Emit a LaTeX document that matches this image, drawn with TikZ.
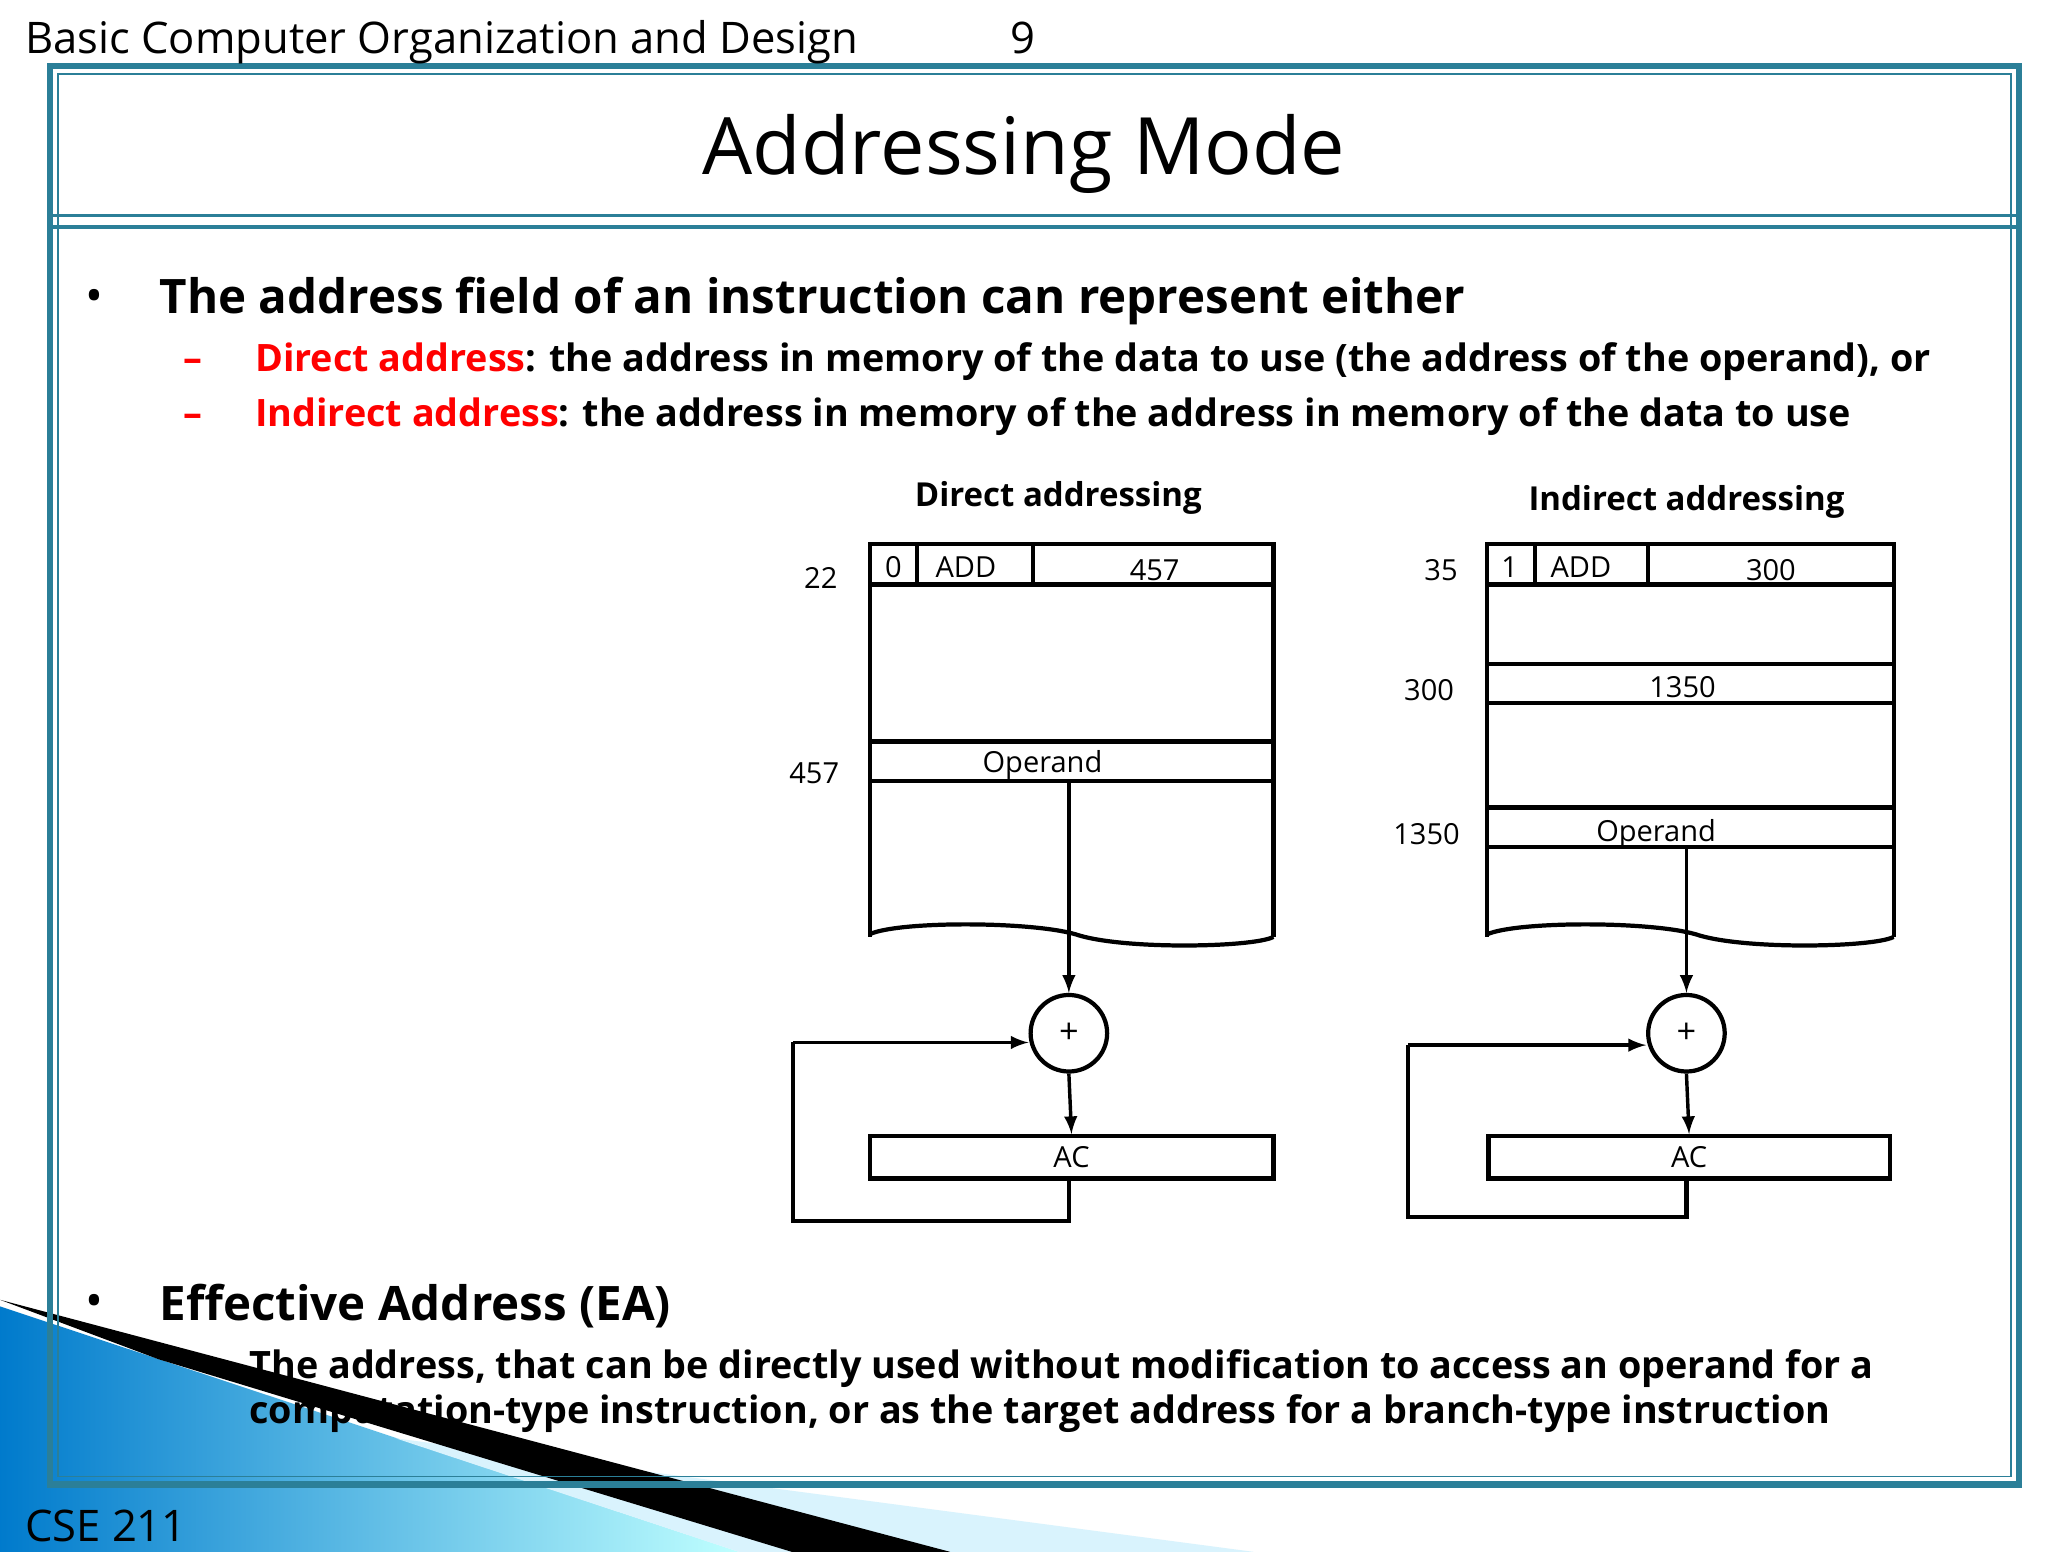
\documentclass[tikz,border=0pt]{standalone}
\usepackage{fontspec}
\setmainfont{Open Sans}
\definecolor{frm}{HTML}{2B7F98}
\begin{document}
\begin{tikzpicture}[x=0.5pt,y=-0.5pt,
  ln/.style={line width=1.6pt},
  lbl/.style={font=\fontsize{11}{13}\selectfont},
  arr/.style={line width=1.3pt,-latex}]
\useasboundingbox (0,0) rectangle (1552,1176);
\fill[white] (0,0) rectangle (1552,1176);
% bottom-left decoration
\shade[left color=cyan!60!blue!80!black, right color=cyan!25] (0,990)--(560,1176)--(0,1176)--cycle;
\fill[cyan!15] (300,1090)--(950,1176)--(560,1176)--cycle;
\fill[black] (0,985)--(720,1176)--(600,1176)--(120,1030)--cycle;
% frame
\draw[frm,line width=2.5pt] (38,50) rectangle (1530,1125);
\draw[frm,line width=0.6pt] (44,56) rectangle (1524,1119);
\draw[frm,line width=1.2pt] (40,163)--(1528,163);
\draw[frm,line width=1.2pt] (40,172)--(1528,172);
% texts
\node[anchor=west,font=\fontsize{16.5}{20}\selectfont] (hdr) at (12,32) {Basic Computer Organization and Design\hspace{58pt}9};
\node[anchor=west,font=\fontsize{16.5}{20}\selectfont] (cse) at (12,1156) {CSE 211};
\node[font=\fontsize{30}{36}\selectfont] (title) at (776,117) {Addressing Mode};
\node[anchor=west,font=\fontsize{18}{24}\selectfont] (bu1) at (58,228) {•};
\node[anchor=west,font=\fontsize{18}{24}\selectfont\bfseries] (b1) at (114,228) {The address field of an instruction can represent either};
\node[anchor=west,font=\fontsize{14.3}{18}\selectfont\bfseries] (s1) at (132,274) {\textcolor{red}{–}\hspace{20pt}\textcolor{red}{Direct address}: the address in memory of the data to use (the address of the operand), or};
\node[anchor=west,font=\fontsize{14.3}{18}\selectfont\bfseries] (s2) at (132,316) {\textcolor{red}{–}\hspace{20pt}\textcolor{red}{Indirect address}: the address in memory of the address in memory of the data to use};
\node[anchor=west,font=\fontsize{18}{24}\selectfont] (bu2) at (58,990) {•};
\node[anchor=west,font=\fontsize{18}{24}\selectfont\bfseries] (b2) at (114,990) {Effective Address (EA)};
\node[anchor=west,font=\fontsize{14.3}{17}\selectfont\bfseries,align=left] (s3) at (182,1054) {The address, that can be directly used without modification to access an operand for a\\computation-type instruction, or as the target address for a branch-type instruction};
\node[font=\fontsize{12.5}{16}\selectfont\bfseries] (dt) at (802,377) {Direct addressing};
\node[font=\fontsize{12.5}{16}\selectfont\bfseries] (it) at (1278,380) {Indirect addressing};
% direct memory
\draw[ln] (659,710)--(659,412)--(965,412)--(965,710);
\draw[ln] (659,443)--(965,443);
\draw[ln] (695,412)--(695,443);
\draw[ln] (783,412)--(783,443);
\draw[ln] (659,562)--(965,562);
\draw[ln] (659,592)--(965,592);
\draw[ln] (659,708) .. controls (680,698) and (780,698) .. (815,708) .. controls (850,720) and (950,718) .. (965,710);
\node[lbl] at (677,430) {0};
\node[lbl] at (732,430) {ADD};
\node[lbl] at (875,432) {457};
\node[lbl] at (790,580) {Operand};
\node[lbl] at (622,438) {22};
\node[lbl] at (617,586) {457};
\coordinate (dop) at (810,592);
\node[draw,ln,circle,minimum size=29pt,inner sep=0pt,font=\fontsize{13}{14}\selectfont] (dplus) at (810,783) {+};
\node[draw,ln,minimum width=153pt,minimum height=16pt,inner sep=0pt,lbl] (dac) at (812,877) {AC};
\draw[arr] (dop)--(dplus.north);
\draw[arr] (dplus.south)--(dac.north);
\coordinate (dfb) at (810,893);
\draw[ln] (dfb)--(810,925)--(601,925)--(601,790);
\draw[arr] (601,790)--(dplus.west|-0,790);
% indirect memory
\draw[ln] (1127,710)--(1127,412)--(1435,412)--(1435,710);
\draw[ln] (1127,443)--(1435,443);
\draw[ln] (1163,412)--(1163,443);
\draw[ln] (1249,412)--(1249,443);
\draw[ln] (1127,503)--(1435,503);
\draw[ln] (1127,533)--(1435,533);
\draw[ln] (1127,612)--(1435,612);
\draw[ln] (1127,642)--(1435,642);
\draw[ln] (1127,708) .. controls (1150,698) and (1250,698) .. (1285,708) .. controls (1320,720) and (1420,718) .. (1435,710);
\node[lbl] at (1144,430) {1};
\node[lbl] at (1198,430) {ADD};
\node[lbl] at (1342,432) {300};
\node[lbl] at (1275,521) {1350};
\node[lbl] at (1255,632) {Operand};
\node[lbl] at (1092,432) {35};
\node[lbl] at (1083,523) {300};
\node[lbl] at (1081,632) {1350};
\coordinate (iop) at (1278,642);
\node[draw,ln,circle,minimum size=29pt,inner sep=0pt,font=\fontsize{13}{14}\selectfont] (iplus) at (1278,783) {+};
\node[draw,ln,minimum width=152pt,minimum height=16pt,inner sep=0pt,lbl] (iac) at (1280,877) {AC};
\draw[arr] (iop)--(iplus.north);
\draw[arr] (iplus.south)--(iac.north);
\coordinate (ifb) at (1278,893);
\draw[ln] (ifb)--(1278,922)--(1067,922)--(1067,792);
\draw[arr] (1067,792)--(iplus.west|-0,792);
\end{tikzpicture}
\end{document}
